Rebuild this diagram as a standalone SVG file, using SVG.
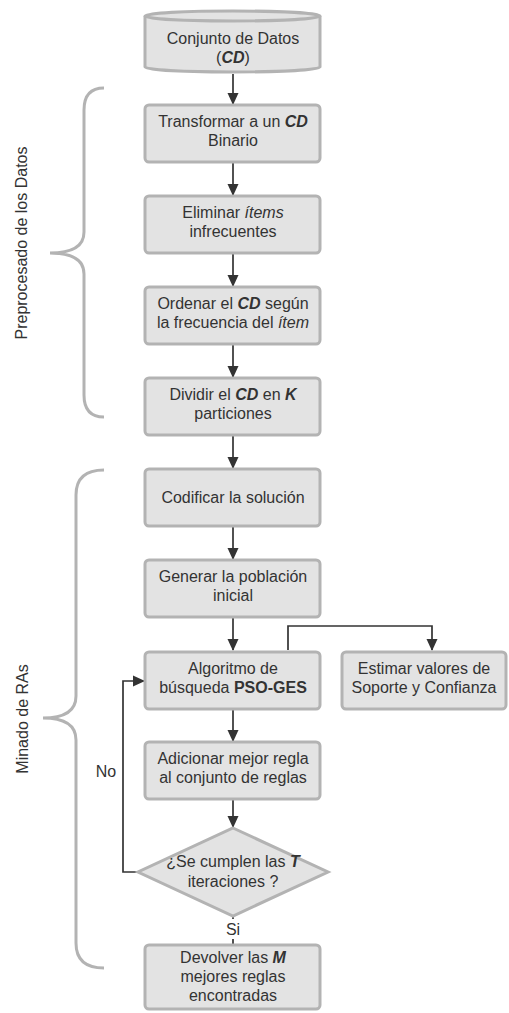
<svg xmlns="http://www.w3.org/2000/svg" width="509" height="1013" viewBox="0 0 509 1013">
  <defs>
    <marker id="arrow" markerWidth="12" markerHeight="12" viewBox="0 0 12 12" refX="11" refY="6" orient="auto" markerUnits="userSpaceOnUse">
      <path d="M0,0.5 L12,6 L0,11.5 Z" fill="#333"/>
    </marker>
    <style>
      .box { fill: #e3e3e3; stroke: #b3b3b3; stroke-width: 3; }
      .brace { fill: none; stroke: #b3b3b3; stroke-width: 3; }
      .edge { fill: none; stroke: #333; stroke-width: 1.7; }
      text { font-family: "Liberation Sans", Arial, sans-serif; font-size: 16px; fill: #333; }
      .c { text-anchor: middle; }
    </style>
  </defs>
  <rect width="509" height="1013" fill="#ffffff"/>

  <!-- side braces and group labels -->
  <g id="grupo-preprocesado">
    <path class="brace" d="M104,88 Q84,88 84,110 V232 Q84,253 50,253 Q84,253 84,274 V395 Q84,417 104,417"/>
    <text class="c" transform="translate(27,243) rotate(-90)" font-size="15">Preprocesado de los Datos</text>
  </g>
  <g id="grupo-minado">
    <path class="brace" d="M104,470 Q76,470 76,495 V696 Q76,718 43,718 Q76,718 76,740 V943 Q76,968 104,968"/>
    <text class="c" transform="translate(28,719) rotate(-90)" font-size="16.5">Minado de RAs</text>
  </g>

  <!-- connectors -->
  <g id="connectors">
    <line class="edge" x1="233" y1="74" x2="233" y2="104" marker-end="url(#arrow)"/>
    <line class="edge" x1="233" y1="163" x2="233" y2="195" marker-end="url(#arrow)"/>
    <line class="edge" x1="233" y1="254" x2="233" y2="286" marker-end="url(#arrow)"/>
    <line class="edge" x1="233" y1="345" x2="233" y2="377" marker-end="url(#arrow)"/>
    <line class="edge" x1="233" y1="436" x2="233" y2="468" marker-end="url(#arrow)"/>
    <line class="edge" x1="233" y1="527" x2="233" y2="559" marker-end="url(#arrow)"/>
    <line class="edge" x1="233" y1="618" x2="233" y2="650" marker-end="url(#arrow)"/>
    <line class="edge" x1="233" y1="710" x2="233" y2="741" marker-end="url(#arrow)"/>
    <line class="edge" x1="233" y1="800" x2="233" y2="827" marker-end="url(#arrow)"/>
    <path class="edge" d="M288,650 V626 H432 V650" marker-end="url(#arrow)"/>
    <path class="edge" d="M137,872 H123 V681 H144" marker-end="url(#arrow)"/>
    <line class="edge" x1="233" y1="917" x2="233" y2="944"/>
    <rect x="224" y="919" width="18" height="20" fill="#ffffff"/>
    <text class="c" x="233" y="935">Si</text>
    <text class="c" x="106" y="777">No</text>
  </g>

  <!-- nodes -->
  <g id="conjunto-datos">
    <path class="box" d="M145,16 A87.5,5 0 0 1 320,16 V67 A87.5,5 0 0 1 145,67 Z"/>
    <path class="brace" d="M145,16 A87.5,5 0 0 0 320,16"/>
    <text class="c" x="233" y="44">Conjunto de Datos</text>
    <text class="c" x="233" y="63">(<tspan font-weight="bold" font-style="italic">CD</tspan>)</text>
  </g>
  <g id="transformar">
    <rect class="box" x="145" y="105" width="175" height="57" rx="4"/>
    <text class="c" x="233" y="127">Transformar a un <tspan font-weight="bold" font-style="italic">CD</tspan></text>
    <text class="c" x="233" y="146">Binario</text>
  </g>
  <g id="eliminar">
    <rect class="box" x="145" y="196" width="175" height="57" rx="4"/>
    <text class="c" x="233" y="218">Eliminar <tspan font-style="italic">ítems</tspan></text>
    <text class="c" x="233" y="237">infrecuentes</text>
  </g>
  <g id="ordenar">
    <rect class="box" x="145" y="287" width="175" height="57" rx="4"/>
    <text class="c" x="233" y="309">Ordenar el <tspan font-weight="bold" font-style="italic">CD</tspan> según</text>
    <text class="c" x="233" y="328">la frecuencia del <tspan font-style="italic">ítem</tspan></text>
  </g>
  <g id="dividir">
    <rect class="box" x="145" y="378" width="175" height="57" rx="4"/>
    <text class="c" x="233" y="400">Dividir el <tspan font-weight="bold" font-style="italic">CD</tspan> en <tspan font-weight="bold" font-style="italic">K</tspan></text>
    <text class="c" x="233" y="419">particiones</text>
  </g>
  <g id="codificar">
    <rect class="box" x="145" y="469" width="175" height="57" rx="4"/>
    <text class="c" x="233" y="503">Codificar la solución</text>
  </g>
  <g id="generar">
    <rect class="box" x="145" y="560" width="175" height="57" rx="4"/>
    <text class="c" x="233" y="582">Generar la población</text>
    <text class="c" x="233" y="601">inicial</text>
  </g>
  <g id="algoritmo">
    <rect class="box" x="145" y="652" width="175" height="57" rx="4"/>
    <text class="c" x="233" y="674">Algoritmo de</text>
    <text class="c" x="233" y="693">búsqueda <tspan font-weight="bold">PSO-GES</tspan></text>
  </g>
  <g id="estimar">
    <rect class="box" x="342" y="652" width="164" height="57" rx="4"/>
    <text class="c" x="424" y="674">Estimar valores de</text>
    <text class="c" x="424" y="693">Soporte y Confianza</text>
  </g>
  <g id="adicionar">
    <rect class="box" x="145" y="742" width="175" height="57" rx="4"/>
    <text class="c" x="233" y="764">Adicionar mejor regla</text>
    <text class="c" x="233" y="783">al conjunto de reglas</text>
  </g>
  <g id="decision">
    <path class="box" d="M233,828 L328,872 L233,916 L138,872 Z"/>
    <text class="c" x="233" y="867">¿Se cumplen las <tspan font-weight="bold" font-style="italic">T</tspan></text>
    <text class="c" x="233" y="887">iteraciones ?</text>
  </g>
  <g id="devolver">
    <rect class="box" x="145" y="945" width="175" height="64" rx="4"/>
    <text class="c" x="233" y="963">Devolver las <tspan font-weight="bold" font-style="italic">M</tspan></text>
    <text class="c" x="233" y="982">mejores reglas</text>
    <text class="c" x="233" y="1001">encontradas</text>
  </g>
</svg>
